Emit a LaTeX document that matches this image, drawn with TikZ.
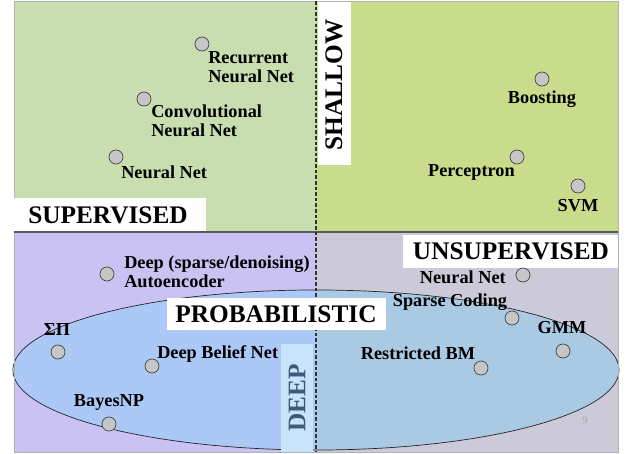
\documentclass[tikz,border=0pt]{standalone}
\usepackage{fontspec}
\setmainfont{Liberation Serif}
\usetikzlibrary{positioning}
\definecolor{supgreen}{HTML}{C8DDB0}
\definecolor{shalgreen}{HTML}{C9DC8B}
\definecolor{deeppurple}{HTML}{C9C2F2}
\definecolor{unsgray}{HTML}{CCCAD8}
\definecolor{probleft}{HTML}{ABC8F7}
\definecolor{probright}{HTML}{AAC9E3}
\definecolor{deepbox}{HTML}{C8E4FA}
\definecolor{deeptext}{HTML}{3F5A78}
\begin{document}
\begin{tikzpicture}[x=0.025cm, y=-0.025cm,
  every node/.style={font=\fontsize{13}{13.5}\selectfont\bfseries, inner sep=0pt},
  dot/.style={circle, draw=gray!55!black, fill=gray!45, minimum size=0.35cm, line width=0.5pt},
  lbl/.style={align=left},
  bigtag/.style={font=\fontsize{18}{20}\selectfont\bfseries}]
\useasboundingbox (0,0) rectangle (641,454);
% quadrants
\fill[supgreen] (14,1) rectangle (316,232);
\fill[shalgreen] (316,1) rectangle (618,232);
\fill[deeppurple] (14,232) rectangle (316,452);
\fill[unsgray] (316,232) rectangle (618,452);
% probabilistic ellipse
\begin{scope}
\clip (14,232) rectangle (316,452);
\fill[probleft] (316,370) ellipse [x radius=7.575cm, y radius=2cm];
\end{scope}
\begin{scope}
\clip (316,232) rectangle (618,452);
\fill[probright] (316,370) ellipse [x radius=7.575cm, y radius=2cm];
\end{scope}
\draw[gray!30!black, line width=0.5pt] (316,370) ellipse [x radius=7.575cm, y radius=2cm];
\draw[gray!60, line width=0.6pt] (14,1) rectangle (618,452);
\draw[gray!70!black, line width=1.2pt] (14,232) -- (618,232);
\fill[deepbox] (281,344) rectangle (313,452);
\draw[black!80, line width=0.9pt, dash pattern=on 2.5pt off 1.5pt] (316,1) -- (316,452);
% white tags
\fill[white] (14,198) rectangle (206,231);
\node[bigtag] (sup) at (108,215) {SUPERVISED};
\fill[white] (318,2) rectangle (351,165);
\node[bigtag, rotate=90] (shal) at (334,85) {SHALLOW};
\fill[white] (403,235) rectangle (618,268);
\node[bigtag] (unsup) at (511,251) {UNSUPERVISED};
\fill[white] (167,298) rectangle (386,330);
\node[bigtag] (prob) at (276,314) {PROBABILISTIC};
\node[bigtag, rotate=90, text=deeptext] (deep) at (297,398) {DEEP};
% methods
\node[dot] (rnn) at (202,44) {};
\node[lbl, anchor=west] (rnnl) at (208,67.5) {Recurrent\\Neural Net};
\node[dot] (cnn) at (144,99) {};
\node[lbl, anchor=west] (cnnl) at (151,120.5) {Convolutional\\Neural Net};
\node[dot] (nn) at (116,157) {};
\node[lbl, anchor=west] (nnl) at (121,172) {Neural Net};
\node[dot] (boost) at (542,79) {};
\node (boostl) at (542,99) {Boosting};
\node[dot] (perc) at (517,157) {};
\node[anchor=east] (percl) at (515,172) {Perceptron};
\node[dot] (svm) at (578,186) {};
\node (svml) at (578,206) {SVM};
\node[dot] (ae) at (107,274) {};
\node[lbl, anchor=west] (ael) at (124,272) {Deep (sparse/denoising)\\Autoencoder};
\node[dot] (nnu) at (523,275) {};
\node[anchor=east] (nnul) at (506,277) {Neural Net};
\node[dot] (sc) at (512,318) {};
\node (scl) at (450,302) {Sparse Coding};
\node[dot] (gmm) at (563,351) {};
\node (gmml) at (562,328) {GMM};
\node[dot] (rbm) at (481,368) {};
\node (rbml) at (418,353) {Restricted BM};
\node[dot] (sp) at (58,352) {};
\node (spl) at (57,330) {ΣΠ};
\node[dot] (dbn) at (152,366) {};
\node[anchor=west] (dbnl) at (157,354) {Deep Belief Net};
\node[dot] (bayes) at (109,424) {};
\node (bayesl) at (109,402) {BayesNP};
\node[font=\fontsize{7}{8}\selectfont, text=gray!70] (page) at (585,420) {9};
\end{tikzpicture}
\end{document}
